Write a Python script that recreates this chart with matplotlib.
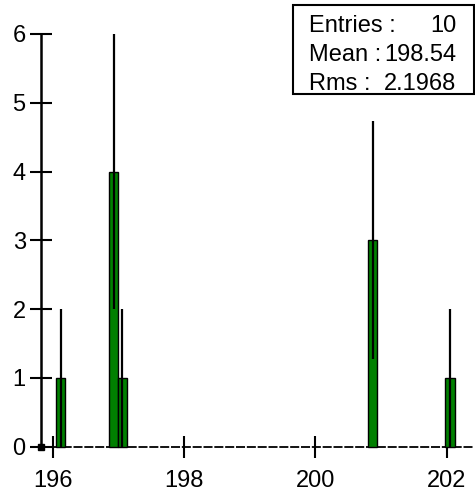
import numpy as np
import matplotlib.pyplot as plt
from matplotlib.patches import Rectangle

plt.rcParams['font.family'] = ['Liberation Sans', 'DejaVu Sans']

# histogram contents (non-empty bins)
bin_centers = [196.12, 196.93, 197.06, 200.87, 202.05]
bin_counts = [1, 4, 1, 3, 1]
bin_width = 0.14
x_range = (195.82, 202.40)

xtick_vals = [196, 198, 200, 202]
ytick_vals = [0, 1, 2, 3, 4, 5, 6]

stat_labels = ['Entries :', 'Mean :', 'Rms :']
stat_values = ['10', '198.54', '2.1968']

W, H = 475, 496
fig = plt.figure(figsize=(W / 100, H / 100), dpi=100)
ax = fig.add_axes([41 / W, (H - 446.7) / H, 432 / W, (446.7 - 34) / H])

counts = np.array(bin_counts, dtype=float)
errs = np.sqrt(counts)

# empty bins drawn as a line at zero
ax.plot(x_range, [0, 0], color='black', lw=1.3, ls=(0, (5, 1)),
        clip_on=False, zorder=1)
ax.bar(bin_centers, counts, width=bin_width, color='#008000',
       edgecolor='black', linewidth=1.0, zorder=2, clip_on=False)
ax.vlines(bin_centers, counts - errs, counts + errs, color='black',
          lw=1.6, zorder=3, clip_on=False)
ax.plot([x_range[0]], [0], marker='s', ms=4, color='black',
        clip_on=False, zorder=4)

ax.set_xlim(*x_range)
ax.set_ylim(0, 6)
for s in ['top', 'right', 'bottom']:
    ax.spines[s].set_visible(False)
ax.spines['left'].set_linewidth(1.8)

ax.set_xticks(xtick_vals)
ax.set_xticklabels([str(v) for v in xtick_vals])
ax.set_yticks(ytick_vals)
ax.set_yticklabels([str(v) for v in ytick_vals])
ax.tick_params(axis='both', direction='inout', length=16, width=1.5,
               labelsize=17, colors='black')
ax.tick_params(axis='x', pad=9)
ax.tick_params(axis='y', pad=3)
ax.minorticks_off()

# stats box
x0, x1 = 292.7, 474
y_top, y_bot = 5, 94
fig.patches.append(Rectangle((x0 / W, (H - y_bot) / H), (x1 - x0) / W,
                             (y_bot - y_top) / H, transform=fig.transFigure,
                             facecolor='white', edgecolor='black', lw=1.5,
                             zorder=10))
baselines = [31.7, 61.0, 90.0]
for lab, val, yb in zip(stat_labels, stat_values, baselines):
    fig.text(309 / W, (H - yb) / H, lab, fontsize=17, ha='left',
             va='baseline', zorder=11)
    fig.text(456 / W, (H - yb) / H, val, fontsize=17, ha='right',
             va='baseline', zorder=11)

fig.savefig('out.png', dpi=100)
